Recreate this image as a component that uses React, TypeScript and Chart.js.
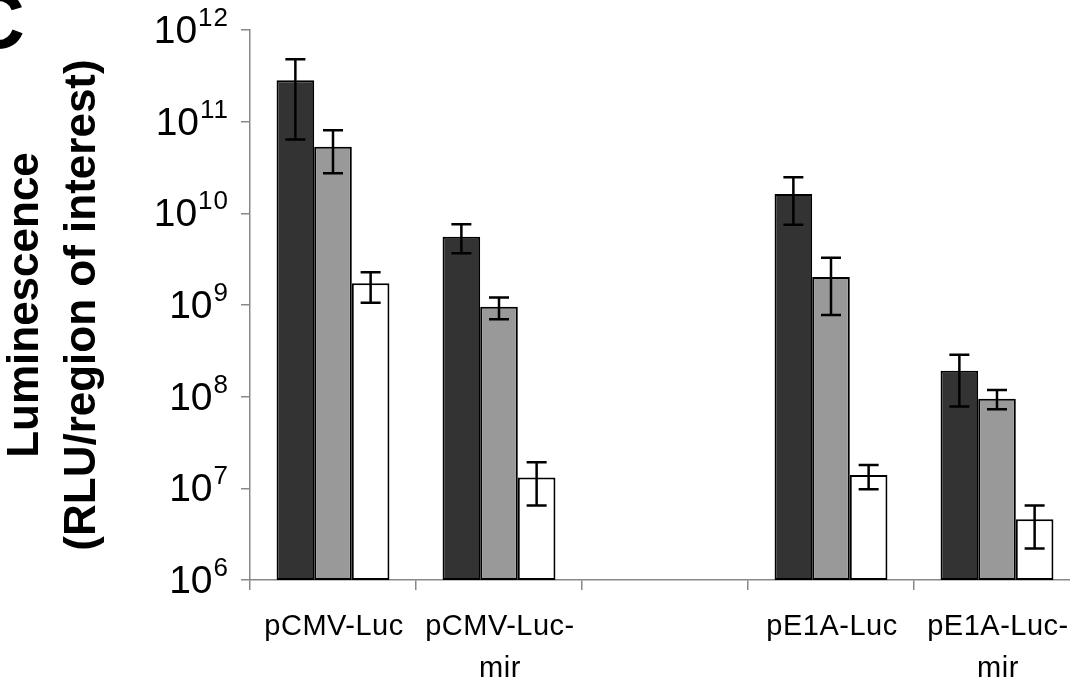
import React, { useEffect, useRef } from "react";
import { Chart, registerables } from "chart.js";

Chart.register(...registerables);

const categories = ["pCMV-Luc", "pCMV-Luc-mir", "", "pE1A-Luc", "pE1A-Luc-mir"];
const xLabelLines: string[][] = [["pCMV-Luc"], ["pCMV-Luc-", "mir"], [], ["pE1A-Luc"], ["pE1A-Luc-", "mir"]];

const seriesDark = [2.83e11, 5.56e9, null, 1.63e10, 1.92e8];
const errDarkLow = [6.4e10, 3.66e9, null, 7.5e9, 7.8e7];
const errDarkHigh = [4.8e11, 7.6e9, null, 2.47e10, 2.87e8];

const seriesGray = [5.33e10, 9.6e8, null, 2.02e9, 9.5e7];
const errGrayLow = [2.73e10, 7.0e8, null, 7.8e8, 7.3e7];
const errGrayHigh = [8.05e10, 1.21e9, null, 3.28e9, 1.18e8];

const seriesWhite = [1.73e9, 1.31e7, null, 1.4e7, 4.6e6];
const errWhiteLow = [1.06e9, 6.5e6, null, 9.8e6, 2.2e6];
const errWhiteHigh = [2.27e9, 1.92e7, null, 1.8e7, 6.5e6];

const yTickExponents = [6, 7, 8, 9, 10, 11, 12];
const yTitleLines = ["Luminescence", "(RLU/region of interest)"];
const panelLetter = "C";

const FONT = "'Liberation Sans', Arial, Helvetica, sans-serif";

const errLows = [errDarkLow, errGrayLow, errWhiteLow];
const errHighs = [errDarkHigh, errGrayHigh, errWhiteHigh];

const customPlugin = {
  id: "custom",
  afterDatasetsDraw(chart: any) {
    const ctx = chart.ctx;
    const y = chart.scales.y;
    ctx.save();
    ctx.strokeStyle = "#000";
    ctx.lineWidth = 2.5;
    chart.data.datasets.forEach((ds: any, di: number) => {
      const meta = chart.getDatasetMeta(di);
      meta.data.forEach((bar: any, i: number) => {
        const lo = errLows[di][i];
        const hi = errHighs[di][i];
        if (lo == null || hi == null) return;
        const x = bar.x;
        const yl = y.getPixelForValue(lo);
        const yh = y.getPixelForValue(hi);
        ctx.beginPath();
        ctx.moveTo(x, yl);
        ctx.lineTo(x, yh);
        ctx.moveTo(x - 10, yl);
        ctx.lineTo(x + 10, yl);
        ctx.moveTo(x - 10, yh);
        ctx.lineTo(x + 10, yh);
        ctx.stroke();
      });
    });
    ctx.restore();
  },
  afterDraw(chart: any) {
    const ctx = chart.ctx;
    const ys = chart.scales.y;
    const xs = chart.scales.x;
    ctx.save();
    ctx.fillStyle = "#000";
    // y tick labels: 10^n
    const right = 229;
    yTickExponents.forEach((e) => {
      const py = ys.getPixelForValue(Math.pow(10, e));
      ctx.font = `26px ${FONT}`;
      ctx.textAlign = "right";
      ctx.textBaseline = "alphabetic";
      const sup = String(e);
      ctx.letterSpacing = "1px";
      const supW = ctx.measureText(sup).width;
      ctx.fillText(sup, right, py - 4);
      ctx.letterSpacing = "0px";
      ctx.font = `39px ${FONT}`;
      ctx.fillText("10", right - supW - 1, py + 13);
    });
    // x labels
    ctx.font = `29px ${FONT}`;
    ctx.textAlign = "center";
    ctx.textBaseline = "alphabetic";
    ctx.letterSpacing = "0.5px";
    xLabelLines.forEach((lines, i) => {
      const px = xs.getPixelForValue(i);
      lines.forEach((ln, li) => {
        ctx.fillText(ln, px + 1, 635 + li * 42);
      });
    });
    ctx.letterSpacing = "0px";
    // panel letter
    ctx.font = `bold 80px ${FONT}`;
    ctx.textAlign = "left";
    ctx.fillText(panelLetter, -33, 48);
    ctx.restore();
  },
};

export default function App() {
  const ref = useRef<HTMLCanvasElement | null>(null);
  useEffect(() => {
    document.body.style.margin = "0";
    document.body.style.overflow = "hidden";
    const canvas = ref.current!;
    const chart = new Chart(canvas, {
      type: "bar",
      data: {
        labels: categories,
        datasets: [
          { data: seriesDark, backgroundColor: "#333333", borderColor: "#000", borderWidth: 2, borderSkipped: false },
          { data: seriesGray, backgroundColor: "#999999", borderColor: "#000", borderWidth: 2, borderSkipped: false },
          { data: seriesWhite, backgroundColor: "#ffffff", borderColor: "#000", borderWidth: 2, borderSkipped: false },
        ] as any,
      },
      options: {
        responsive: false,
        animation: false,
        devicePixelRatio: 1,
        layout: { padding: { left: 0, right: 5, top: 30, bottom: 0 } },
        datasets: { bar: { categoryPercentage: 0.68, barPercentage: 1.0 } } as any,
        plugins: { legend: { display: false }, tooltip: { enabled: false } },
        scales: {
          x: {
            type: "category",
            offset: true,
            grid: { display: true, drawOnChartArea: false, drawTicks: true, tickLength: 10, color: "#888888", lineWidth: 1.5, offset: true },
            border: { display: true, color: "#888888", width: 1.5 },
            ticks: { display: false },
            afterFit: (s: any) => {
              s.height = 98;
            },
          },
          y: {
            type: "logarithmic",
            min: 1e6,
            max: 1e12,
            grid: { display: true, drawOnChartArea: false, drawTicks: true, tickLength: 9, color: "#888888", lineWidth: 1.5 },
            border: { display: true, color: "#888888", width: 1.5 },
            ticks: { display: false },
            afterBuildTicks: (s: any) => {
              s.ticks = yTickExponents.map((e) => ({ value: Math.pow(10, e) }));
            },
            afterFit: (s: any) => {
              s.width = 250;
            },
            title: {
              display: true,
              text: yTitleLines,
              color: "#000",
              font: { family: FONT, size: 44, weight: "bold", lineHeight: 1.3 },
              padding: { top: -3, bottom: 0 },
            },
          },
        },
      },
      plugins: [customPlugin],
    } as any);
    return () => chart.destroy();
  }, []);
  return (
    <div style={{ position: "fixed", left: 0, top: 0, width: 1085, height: 678 }}>
      <canvas ref={ref} width={1085} height={678} />
    </div>
  );
}
